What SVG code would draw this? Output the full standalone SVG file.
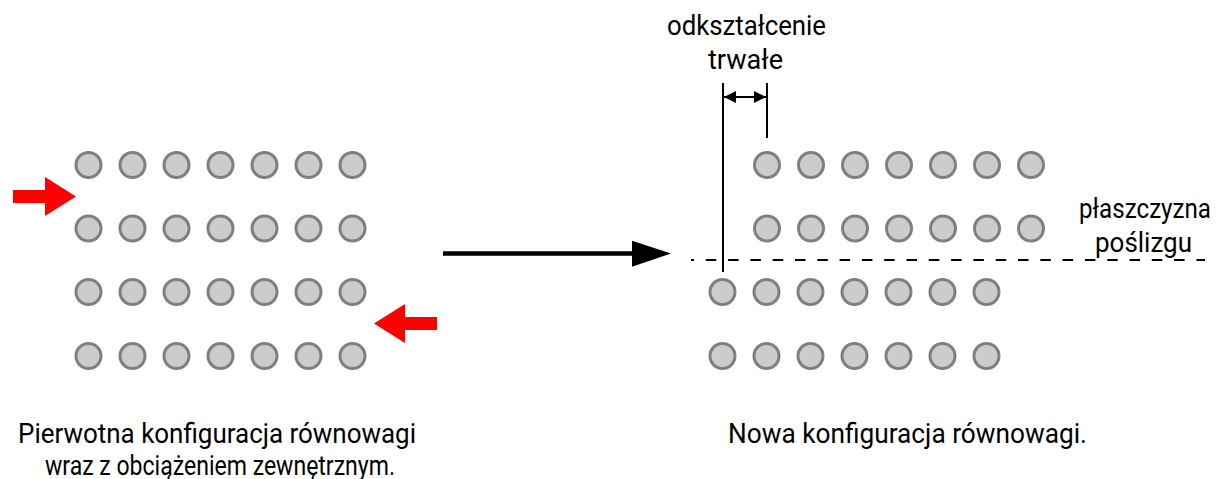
<svg xmlns="http://www.w3.org/2000/svg" width="1216" height="479" viewBox="0 0 1216 479">
<style>
.atom{fill:#cccccc;stroke:#7f7f7f;stroke-width:3}
.t{font-family:Roboto,"Open Sans",sans-serif;font-size:27.5px;fill:#000;text-anchor:middle}
.ln{stroke:#000;stroke-width:2;fill:none}
</style>
<defs>
<marker id="dh" viewBox="0 0 12 12" refX="12" refY="6" markerWidth="12" markerHeight="12" markerUnits="userSpaceOnUse" orient="auto-start-reverse">
<path d="M0,0 L12,6 L0,12 Z" fill="#000"/>
</marker>
<g id="row7">
<circle class="atom" cx="0" cy="0" r="12.5"/>
<circle class="atom" cx="44" cy="0" r="12.5"/>
<circle class="atom" cx="88" cy="0" r="12.5"/>
<circle class="atom" cx="132" cy="0" r="12.5"/>
<circle class="atom" cx="176" cy="0" r="12.5"/>
<circle class="atom" cx="220" cy="0" r="12.5"/>
<circle class="atom" cx="264" cy="0" r="12.5"/>
</g>
</defs>
<g id="left-lattice">
<use href="#row7" x="88.5" y="165"/>
<use href="#row7" x="88.5" y="228.5"/>
<use href="#row7" x="88.5" y="292"/>
<use href="#row7" x="88.5" y="356"/>
</g>
<g id="right-lattice">
<use href="#row7" x="767" y="165"/>
<use href="#row7" x="767" y="228.5"/>
<use href="#row7" x="722.5" y="292"/>
<use href="#row7" x="722.5" y="356"/>
</g>
<g id="load-arrow-left">
<polygon points="13,190 45,190 45,177 76,196.5 45,216 45,203 13,203" fill="#ff0000"/>
</g>
<g id="load-arrow-right">
<polygon points="437,317 405,317 405,304 374,323.5 405,343 405,330 437,330" fill="#ff0000"/>
</g>
<g id="connectors">
<line x1="443" y1="253.5" x2="634" y2="253.5" stroke="#000" stroke-width="4.5"/>
<polygon points="632,240.7 671,253.5 632,266.7" fill="#000"/>
<line class="ln" x1="723" y1="83" x2="723" y2="272"/>
<line class="ln" x1="767" y1="83" x2="767" y2="138"/>
<line class="ln" x1="724" y1="97" x2="766" y2="97" marker-start="url(#dh)" marker-end="url(#dh)"/>
<line x1="691" y1="260" x2="1205" y2="260" stroke="#000" stroke-width="2" stroke-dasharray="10.5 11.8" stroke-dashoffset="7.5"/>
</g>
<g id="label-odksztalcenie">
<text class="t" x="746.5" y="35" textLength="159" lengthAdjust="spacingAndGlyphs">odkształcenie</text>
<text class="t" x="745.5" y="69" textLength="75" lengthAdjust="spacingAndGlyphs">trwałe</text>
</g>
<g id="label-plaszczyzna">
<text class="t" x="1211" y="218" style="text-anchor:end" textLength="132" lengthAdjust="spacingAndGlyphs">płaszczyzna</text>
<text class="t" x="1143.5" y="252" textLength="97" lengthAdjust="spacingAndGlyphs">poślizgu</text>
</g>
<g id="label-left">
<text class="t" x="217" y="443" textLength="398" lengthAdjust="spacingAndGlyphs">Pierwotna konfiguracja równowagi</text>
<text class="t" x="220" y="475" textLength="350" lengthAdjust="spacingAndGlyphs">wraz z obciążeniem zewnętrznym.</text>
</g>
<g id="label-right">
<text class="t" x="907.5" y="443" textLength="359" lengthAdjust="spacingAndGlyphs">Nowa konfiguracja równowagi.</text>
</g>
</svg>
